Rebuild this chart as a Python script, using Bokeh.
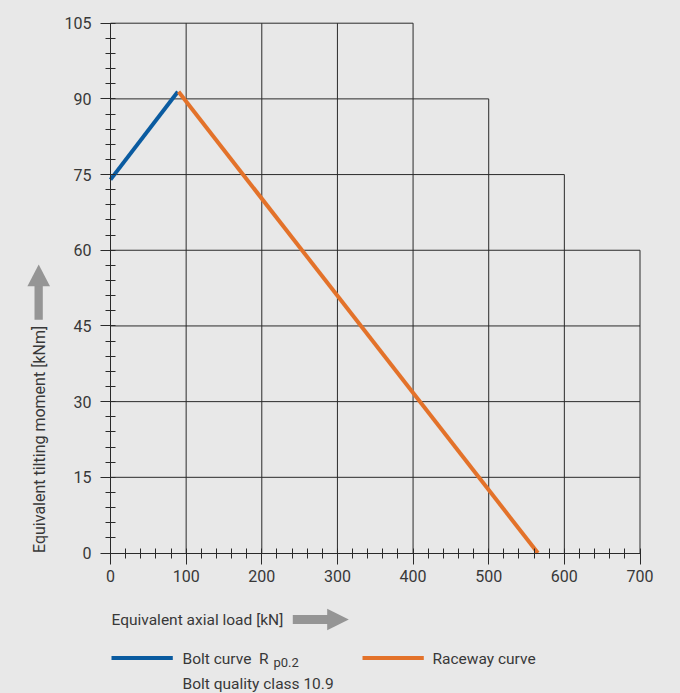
import math
from bokeh.plotting import figure
from bokeh.models import (Range1d, FixedTicker, Label, BoxAnnotation, PolyAnnotation,
                          LinearAxis)
from bokeh.embed import file_html
from bokeh.resources import INLINE

# ---- data ----
bolt_x = [0, 89]
bolt_y = [74, 91.4]
race_x = [90, 565]
race_y = [91.4, 0]

x_ticks = [0, 100, 200, 300, 400, 500, 600, 700]
y_ticks = [0, 15, 30, 45, 60, 75, 90, 105]
x_minor = list(range(0, 701, 20))
y_minor = list(range(0, 106, 3))
x_bounds = (0, 700)
y_bounds = (0, 105)

# staircase grid (top / right end of each grid line)
vgrid_x = [100, 200, 300, 400, 500, 600, 700]
vgrid_top = [105, 105, 105, 105, 90, 75, 60]
hgrid_y = [15, 30, 45, 60, 75, 90, 105]
hgrid_right = [700, 700, 700, 700, 600, 500, 400]

x_title = "Equivalent axial load [kN]"
y_title = "Equivalent tilting moment [kNm]"
leg_bolt = "Bolt curve\u00a0\u00a0R"
leg_bolt_sub = "p0.2"
leg_bolt2 = "Bolt quality class 10.9"
leg_race = "Raceway curve"

# ---- style / layout ----
BG = "#e8e8e8"
DARK = "#2a2a2a"
TXT = "#383838"
BLUE = "#0a5ba0"
ORANGE = "#e3722a"
GRAY = "#959595"
FONT = "Roboto"
FS = "16px"
FS2 = "15.5px"

W, H = 680, 693
OX, OY = 110.0, 552.5          # pixel position of data origin
PW, PH = 529.5, 529.8          # pixel size of 0..700 / 0..105
dx = x_bounds[1] / PW
dy = y_bounds[1] / PH

def X(px):
    return px * dx

def Y(py):
    return py * dy

p = figure(width=W, height=H,
           x_range=Range1d(X(-OX), X(W - OX)), y_range=Range1d(Y(OY - H), Y(OY)),
           output_backend="svg", toolbar_location=None, title=None,
           x_axis_location=None, y_axis_location=None, min_border=0,
           background_fill_color=BG, border_fill_color=BG, outline_line_color=None)
p.xgrid.visible = False
p.ygrid.visible = False

xa = LinearAxis(fixed_location=0, bounds=x_bounds,
                ticker=FixedTicker(ticks=x_ticks, minor_ticks=x_minor))
ya = LinearAxis(fixed_location=0, bounds=y_bounds,
                ticker=FixedTicker(ticks=y_ticks, minor_ticks=y_minor))
for ax in (xa, ya):
    ax.axis_line_color = DARK
    ax.axis_line_width = 1
    ax.major_tick_line_color = DARK
    ax.minor_tick_line_color = DARK
    ax.major_tick_in = 0
    ax.minor_tick_in = 5
    ax.minor_tick_out = 5
    ax.major_label_text_font = FONT
    ax.major_label_text_font_size = FS
    ax.major_label_text_color = TXT
xa.major_tick_out = 11
xa.major_label_standoff = 6
ya.major_tick_out = 10
ya.major_label_standoff = 9
p.add_layout(xa, "below")
p.add_layout(ya, "left")

# grid staircase
p.segment(x0=vgrid_x, y0=[0] * len(vgrid_x), x1=vgrid_x, y1=vgrid_top,
          line_color=DARK, line_width=1)
p.segment(x0=[0] * len(hgrid_y), y0=hgrid_y, x1=hgrid_right, y1=hgrid_y,
          line_color=DARK, line_width=1)

# curves
p.line(bolt_x, bolt_y, line_color=BLUE, line_width=4)
p.line(race_x, race_y, line_color=ORANGE, line_width=4)

def lab(text, xo, yo, size=FS2, angle=0, align="left"):
    p.add_layout(Label(x=0, y=0, x_offset=xo, y_offset=yo, text=text, angle=angle,
                       text_align=align, text_baseline="middle",
                       text_font=FONT, text_font_size=size, text_color=TXT))

def box(l, r, b, t, color):
    p.add_layout(BoxAnnotation(left=X(l), right=X(r), bottom=Y(b), top=Y(t),
                               fill_color=color, fill_alpha=1, line_color=None))

def tri(xs, ys, color):
    p.add_layout(PolyAnnotation(xs=[X(v) for v in xs], ys=[Y(v) for v in ys],
                                fill_color=color, fill_alpha=1, line_color=None))

# axis titles
lab(x_title, 1, -66.5)
lab(y_title, -71.5, 0, size=FS, angle=math.pi / 2)

# axis arrows
box(182.3, 217.5, -71, -62, GRAY)
tri([216.7, 238.3, 216.7], [-77.3, -66.5, -55.7], GRAY)
box(-76, -67.7, 233.2, 267.6, GRAY)
tri([-83.1, -71.8, -60.5], [266.8, 288.5, 266.8], GRAY)

# legend
box(1, 62.3, -107, -103, BLUE)
box(252, 313.3, -107, -103, ORANGE)
lab(leg_bolt, 72, -105.5)
lab(leg_bolt_sub, 163, -109.5, size="13px")
lab(leg_bolt2, 72, -130.5)
lab(leg_race, 322, -105.5)

html = file_html(p, INLINE)
html = html.replace("</head>",
                    "<style>html,body{background:%s;margin:0;padding:0;}</style></head>" % BG, 1)
open("out.html", "w").write(html)
